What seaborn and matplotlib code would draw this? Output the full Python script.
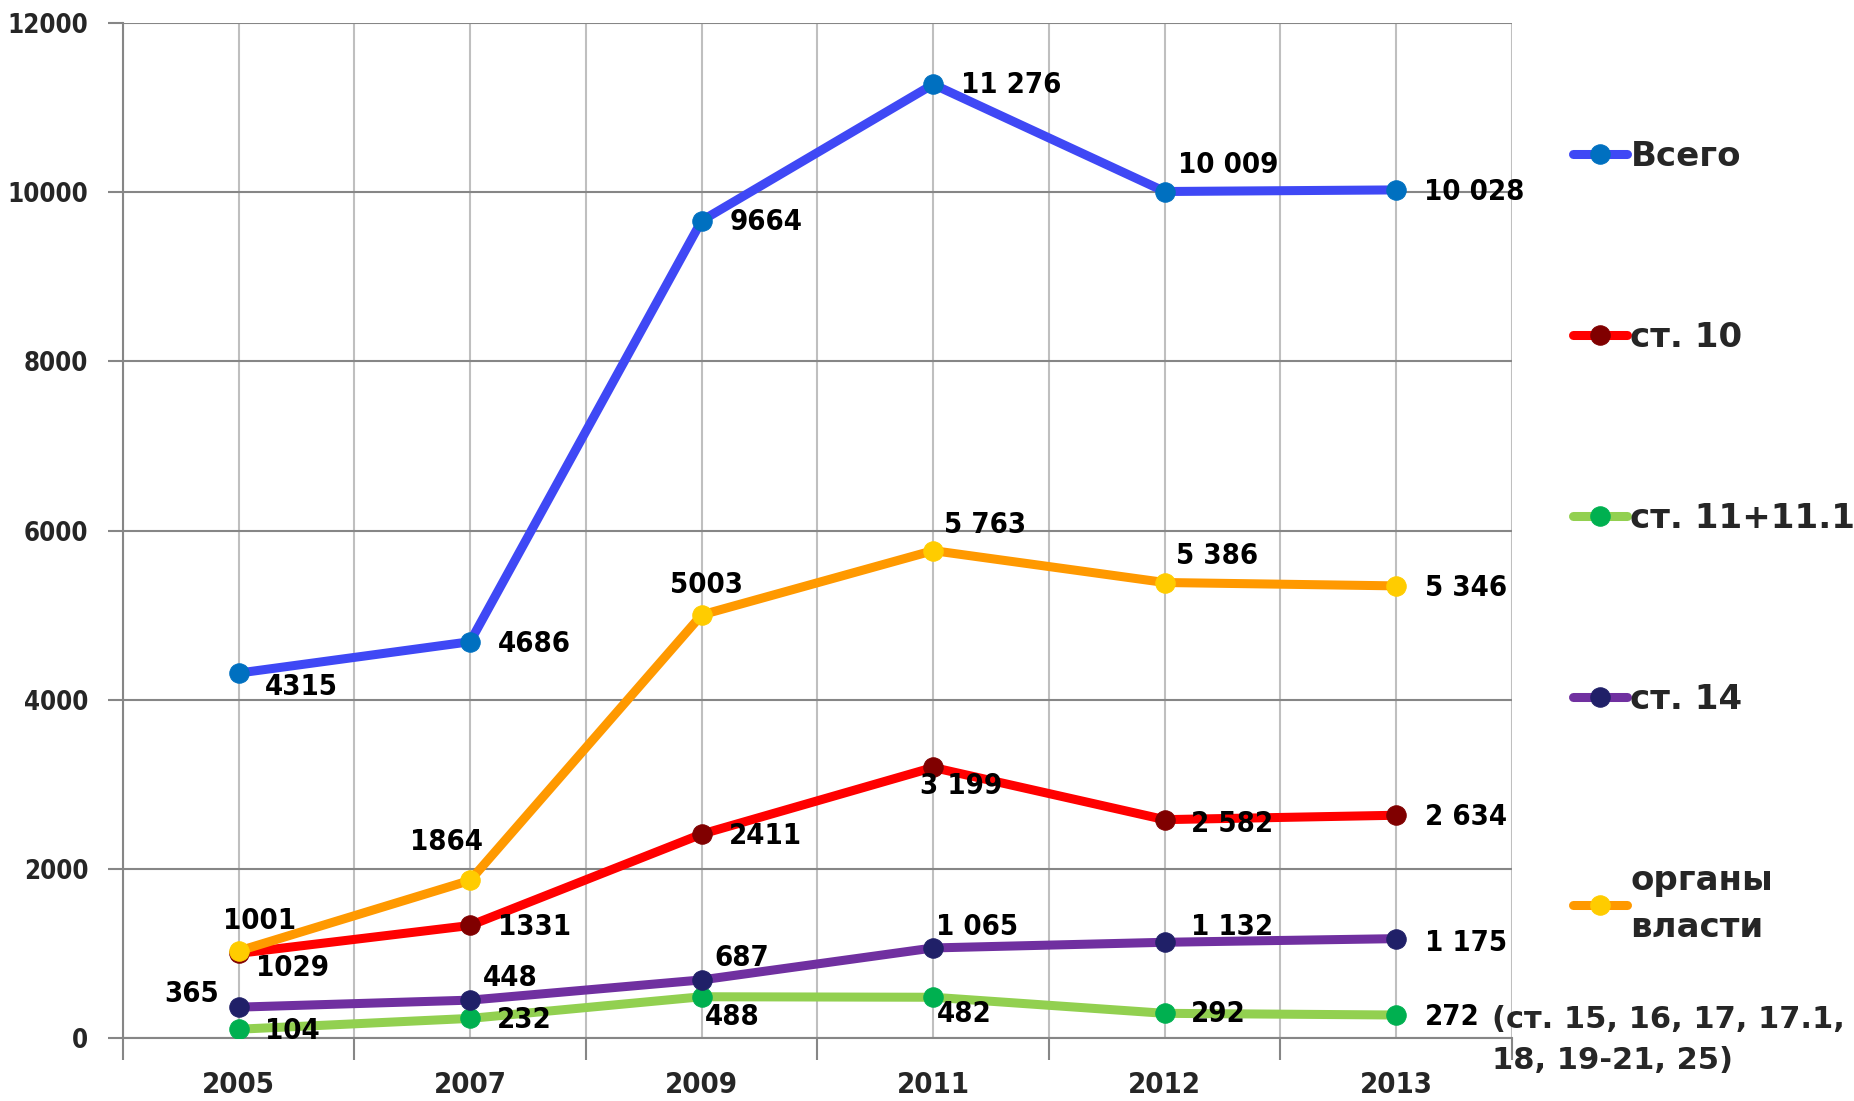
import matplotlib
matplotlib.use("Agg")
import matplotlib.pyplot as plt
from matplotlib import font_manager as fm
import seaborn as sns
import pandas as pd

# Data
years = ["2005", "2007", "2009", "2011", "2012", "2013"]
series_names = ["Всего", "ст. 10", "ст. 11+11.1", "ст. 14", "органы\nвласти"]

total = [4315, 4686, 9664, 11276, 10009, 10028]
st10 = [1001, 1331, 2411, 3199, 2582, 2634]
st11 = [104, 232, 488, 482, 292, 272]
st14 = [365, 448, 687, 1065, 1132, 1175]
organs = [1029, 1864, 5003, 5763, 5386, 5346]

total_labels = ["4315", "4686", "9664", "11 276", "10 009", "10 028"]
st10_labels = ["1001", "1331", "2411", "3 199", "2 582", "2 634"]
st11_labels = ["104", "232", "488", "482", "292", "272"]
st14_labels = ["365", "448", "687", "1 065", "1 132", "1 175"]
organs_labels = ["1029", "1864", "5003", "5 763", "5 386", "5 346"]

note = "(ст. 15, 16, 17, 17.1,\n18, 19-21, 25)"

values = [total, st10, st11, st14, organs]
labels = [total_labels, st10_labels, st11_labels, st14_labels, organs_labels]

# styles
line_colors = ["#3F48F5", "#FF0000", "#92D050", "#7030A0", "#FF9900"]
marker_colors = ["#0070C0", "#800000", "#00B050", "#202068", "#FFCC00"]

# label offsets in pixels (dx, dy)
offsets = [
    [(63, -14), (64, -2), (64, -1), (78, -1), (64, 27), (78, -2)],
    [(21, 32), (64, -2), (64, -2), (28, -19), (67, -4), (70, -2)],
    [(54, -2), (54, -2), (31, -20), (31, -17), (54, -1), (56, -2)],
    [(-47, 13), (40, 22), (40, 22), (44, 21), (67, 15), (70, -4)],
    [(54, -17), (-24, 38), (5, 30), (52, 26), (52, 27), (70, -2)],
]

sns.set_style("white")

# narrow bold font for numbers, if there is one
names = {f.name for f in fm.fontManager.ttflist}
if "Liberation Sans Narrow" in names:
    num_font = {"family": "Liberation Sans Narrow", "stretch": "normal"}
else:
    num_font = {"family": "DejaVu Sans", "stretch": "condensed"}
lab_size, ytick_size, xtick_size = 21, 18.5, 21

plt.rcParams["font.family"] = [num_font["family"], "DejaVu Sans"]
plt.rcParams["font.stretch"] = num_font["stretch"]
plt.rcParams["font.weight"] = "bold"

fig = plt.figure(figsize=(18.54, 11.01), dpi=100)
ax = fig.add_axes([0.0663, 0.0572, 0.8155 - 0.0663, 0.979 - 0.0572])

pos = list(range(len(years)))
for name, vals, lc, mc in zip(series_names, values, line_colors, marker_colors):
    df = pd.DataFrame({"x": pos, "y": vals})
    sns.lineplot(
        data=df, x="x", y="y", ax=ax, color=lc, linewidth=6.5,
        marker="o", markersize=14, markerfacecolor=mc, markeredgecolor=mc,
        label=name, zorder=3,
    )

for vals, labs, offs in zip(values, labels, offsets):
    for x, v, t, (dx, dy) in zip(pos, vals, labs, offs):
        ax.annotate(t, (x, v), xytext=(dx, dy), textcoords="offset pixels",
                    ha="center", va="center", fontsize=lab_size, fontweight="bold",
                    color="black", zorder=5)

ax.set_xlim(-0.5, len(years) - 0.5)
ax.set_ylim(0, 12000)
ax.set_yticks(range(0, 12001, 2000))
ax.set_yticklabels([str(v) for v in range(0, 12001, 2000)], fontsize=ytick_size, fontweight="bold")

# vertical gridlines at every half category, tick marks only at boundaries
ax.set_xticks(pos)
ax.set_xticklabels(years, fontsize=xtick_size, fontweight="bold")
ax.set_xticks([p - 0.5 for p in pos] + [len(years) - 0.5], minor=True)
ax.tick_params(axis="x", which="major", length=0, pad=24)
ax.tick_params(axis="x", which="minor", length=16, width=1.5, color="#868686", bottom=True)
ax.tick_params(axis="y", length=11, width=1.5, color="#868686", left=True, pad=14)

ax.xaxis.grid(True, which="both", color="#BFBFBF", linewidth=1.5, zorder=0)
ax.yaxis.grid(True, color="#868686", linewidth=1.5, zorder=0)
ax.set_axisbelow(True)
ax.set_xlabel("")
ax.set_ylabel("")

for s in ["top", "right"]:
    ax.spines[s].set_visible(False)
for s in ["left", "bottom"]:
    ax.spines[s].set_color("#868686")
    ax.spines[s].set_linewidth(1.5)

leg = ax.legend(
    loc="upper left", bbox_to_anchor=(1.0 + 30 / 1389, 0.915), frameon=False,
    prop={"family": "DejaVu Sans", "weight": "bold", "size": 24.5, "stretch": "normal"},
    labelspacing=4.35, handlelength=1.6, handletextpad=0.1,
)
for t in leg.get_texts():
    t.set_linespacing(1.55)

fig.text(1492 / 1854, 1 - 1040 / 1101, note, fontsize=22, fontweight="bold",
         family="DejaVu Sans", stretch="normal", ha="left", va="center", linespacing=1.5)

fig.savefig("out.png", dpi=100)
